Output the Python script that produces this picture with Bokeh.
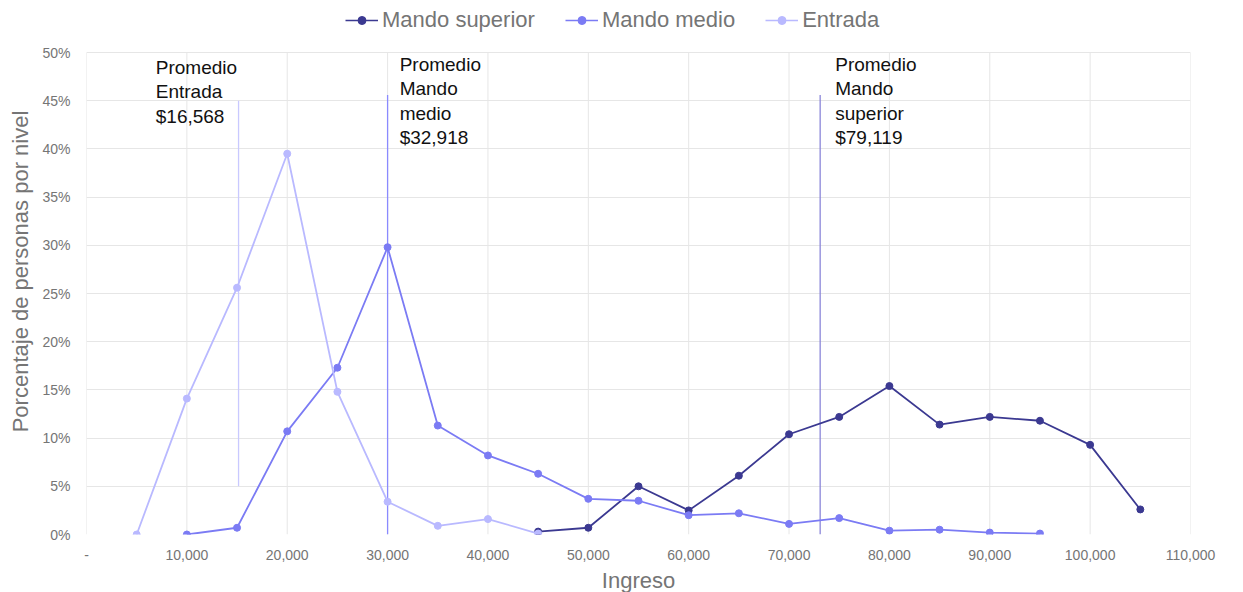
from bokeh.plotting import figure
from bokeh.models import (ColumnDataSource, Legend, LegendItem, PrintfTickFormatter,
                          NumeralTickFormatter, FixedTicker, Range1d)
from bokeh.core.properties import value
from bokeh.embed import file_html
from bokeh.resources import INLINE

# ---- data ----
entrada_x = [5000, 10000, 15000, 20000, 25000, 30000, 35000, 40000, 45000]
entrada_y = [0.0, 14.1, 25.6, 39.5, 14.8, 3.4, 0.9, 1.6, 0.1]

medio_x = [10000, 15000, 20000, 25000, 30000, 35000, 40000, 45000, 50000,
           55000, 60000, 65000, 70000, 75000, 80000, 85000, 90000, 95000]
medio_y = [0.0, 0.7, 10.7, 17.3, 29.8, 11.3, 8.2, 6.3, 3.7,
           3.5, 2.0, 2.2, 1.1, 1.7, 0.4, 0.5, 0.2, 0.1]

superior_x = [45000, 50000, 55000, 60000, 65000, 70000, 75000, 80000,
              85000, 90000, 95000, 100000, 105000]
superior_y = [0.3, 0.7, 5.0, 2.5, 6.1, 10.4, 12.2, 15.4,
              11.4, 12.2, 11.8, 9.3, 2.6]

avg_names = ["Promedio\nEntrada\n$16,568", "Promedio\nMando\nmedio\n$32,918",
             "Promedio\nMando\nsuperior\n$79,119"]
avg_line_x = [15150, 30000, 73100]
avg_line_y0 = [5.0, 0.0, 0.0]
avg_line_y1 = [45.0, 45.6, 45.6]
avg_label_x = [6900, 31200, 74600]
avg_label_y = [49.55, 49.85, 49.85]

x_ticks = [0, 10000, 20000, 30000, 40000, 50000, 60000, 70000, 80000, 90000, 100000, 110000]
y_ticks = [0, 5, 10, 15, 20, 25, 30, 35, 40, 45, 50]
y_max = 50

# ---- style ----
FONT = "Liberation Sans"
C_SUP = "#3b3991"
C_MED = "#7b7bf4"
C_ENT = "#b9b9ff"
C_LINES = ["#c9c9ff", "#8a8aff", "#8a86d9"]
GRAY = "#757575"
GRID = "#e6e6e6"

FRAME_H = 526          # frame spans legend strip + plotting area
PLOT_H = 482           # pixel height of the 0..50% area
p = figure(frame_width=1104, frame_height=FRAME_H, output_backend="svg", toolbar_location=None,
           x_range=Range1d(0, 110000), y_range=Range1d(0, y_max * FRAME_H / PLOT_H),
           min_border_left=86, min_border_right=45, min_border_top=8, min_border_bottom=50)
p.outline_line_color = None
p.background_fill_color = "white"

p.xaxis.ticker = FixedTicker(ticks=x_ticks)
p.yaxis.ticker = FixedTicker(ticks=y_ticks)
p.yaxis.bounds = (0, y_max)
p.xaxis.formatter = NumeralTickFormatter(format="0,0")
p.xaxis.major_label_overrides = {0: "-"}
p.yaxis.formatter = PrintfTickFormatter(format="%d%%")
for ax in (p.xaxis, p.yaxis):
    ax.axis_line_color = None
    ax.major_tick_line_color = None
    ax.minor_tick_line_color = None
    ax.major_label_text_color = GRAY
    ax.major_label_text_font = FONT
    ax.major_label_text_font_size = "14px"
    ax.axis_label_text_color = GRAY
    ax.axis_label_text_font = FONT
    ax.axis_label_text_font_size = "22px"
    ax.axis_label_text_font_style = "normal"
p.xaxis.axis_label = "Ingreso"
p.yaxis.axis_label = "Porcentaje de personas por nivel"
p.xaxis.major_label_standoff = 9
p.yaxis.major_label_standoff = 10
p.xaxis.axis_label_standoff = 5
p.yaxis.axis_label_standoff = 6
p.ygrid.grid_line_color = GRID
p.xgrid.grid_line_color = None

# vertical grid lines limited to the 0..50% area
grid_src = ColumnDataSource(dict(x=x_ticks, y0=[0] * len(x_ticks), y1=[y_max] * len(x_ticks)))
p.segment(x0="x", y0="y0", x1="x", y1="y1", source=grid_src, line_color=GRID, line_width=1)

# avg vertical lines
seg_src = ColumnDataSource(dict(x=avg_line_x, y0=avg_line_y0, y1=avg_line_y1, c=C_LINES))
p.segment(x0="x", y0="y0", x1="x", y1="y1", source=seg_src, line_color="c", line_width=1.3)

# series
series = [(superior_x, superior_y, C_SUP), (medio_x, medio_y, C_MED), (entrada_x, entrada_y, C_ENT)]
leg_r = []
for xs, ys, c in series:
    p.line(xs, ys, line_color=c, line_width=1.8)
    p.scatter(xs, ys, size=7, fill_color=c, line_color=c)
    # hidden copies used only for the key (thinner line, smaller dot)
    l = p.line(xs[:2], ys[:2], line_color=c, line_width=1.5, visible=False)
    s = p.scatter(xs[:1], ys[:1], size=5, fill_color=c, line_color=c, visible=False)
    leg_r.append([l, s])

# labels
lab_src = ColumnDataSource(dict(x=avg_label_x, y=avg_label_y, t=avg_names))
p.text(x="x", y="y", text="t", source=lab_src, text_font=value(FONT),
       text_font_size="19px", text_color="#111111", text_baseline="top",
       text_line_height=1.16)

legend = Legend(items=[
    LegendItem(label="Mando superior", renderers=leg_r[0]),
    LegendItem(label="Mando medio", renderers=leg_r[1]),
    LegendItem(label="Entrada", renderers=leg_r[2]),
], orientation="horizontal", location=(259, 501))
legend.label_text_font = FONT
legend.label_text_font_size = "22px"
legend.label_text_color = GRAY
legend.border_line_color = None
legend.background_fill_alpha = 0
legend.inactive_fill_alpha = 0
legend.glyph_width = 33
legend.spacing = 30
legend.label_standoff = 4
legend.padding = 2
legend.margin = 0
p.add_layout(legend, "center")

open("out.html", "w").write(file_html(p, INLINE))
